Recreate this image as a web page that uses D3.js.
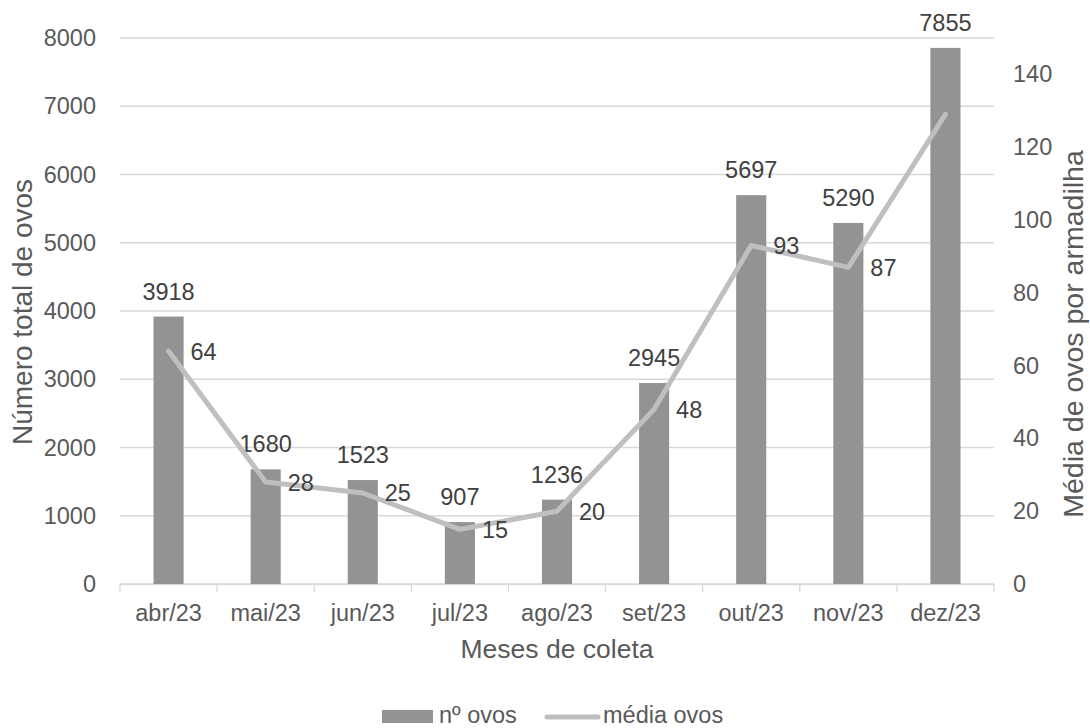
<!DOCTYPE html>
<html>
<head>
<meta charset="utf-8">
<script src="https://cdn.jsdelivr.net/npm/d3@7"></script>
<style>
  html, body { margin: 0; padding: 0; background: #ffffff; }
  svg { display: block; font-family: "Liberation Sans", Arial, sans-serif; }
</style>
</head>
<body>
<svg id="chart" width="1090" height="728"></svg>
<script>
// Monthly egg collection: total eggs (bars, left axis) and mean eggs per trap (line, right axis)
const months = ["abr/23", "mai/23", "jun/23", "jul/23", "ago/23", "set/23", "out/23", "nov/23", "dez/23"];
const totalEggs = [3918, 1680, 1523, 907, 1236, 2945, 5697, 5290, 7855];
const meanEggs = [64, 28, 25, 15, 20, 48, 93, 87, 129];
const meanLabelShown = [true, true, true, true, true, true, true, true, false];
const leftTicks = [0, 1000, 2000, 3000, 4000, 5000, 6000, 7000, 8000];
const rightTicks = [0, 20, 40, 60, 80, 100, 120, 140];

const svg = d3.select("#chart");

const plot = { left: 120, right: 994, top: 38, bottom: 584 };
const barColor = "#939393";
const lineColor = "#bfbfbf";
const gridColor = "#d9d9d9";
const axisText = "#595959";
const labelText = "#404040";
const smallFont = "23.5px";
const fontFamily = "'Liberation Sans', Arial, sans-serif";

const x = d3.scaleBand().domain(months).range([plot.left, plot.right]).paddingInner(0).paddingOuter(0);
const yLeft = d3.scaleLinear().domain([0, 8000]).range([plot.bottom, plot.top]);
const yRight = d3.scaleLinear().domain([0, 150]).range([plot.bottom, plot.top]);
const barWidth = x.bandwidth() * 0.31;
const cx = m => x(m) + x.bandwidth() / 2;

// horizontal gridlines
svg.append("g")
  .selectAll("line")
  .data(leftTicks)
  .join("line")
  .attr("x1", plot.left).attr("x2", plot.right)
  .attr("y1", d => yLeft(d)).attr("y2", d => yLeft(d))
  .attr("stroke", gridColor).attr("stroke-width", 1.3);

// category axis with tick marks at band boundaries
const xAxis = d3.axisBottom(x).tickSize(0).tickFormat(d => d);
const gx = svg.append("g").attr("transform", `translate(0,${plot.bottom})`).call(xAxis);
gx.select(".domain").attr("stroke", gridColor).attr("stroke-width", 1.3);
gx.selectAll(".tick text")
  .attr("y", 0).attr("dy", 0)
  .attr("transform", "translate(0,37)")
  .attr("fill", axisText)
  .style("font-size", smallFont)
  .style("font-family", fontFamily);
const boundaries = months.map(m => x(m)).concat([plot.right]);
svg.append("g")
  .selectAll("line")
  .data(boundaries)
  .join("line")
  .attr("x1", d => d).attr("x2", d => d)
  .attr("y1", plot.bottom).attr("y2", plot.bottom + 8)
  .attr("stroke", gridColor).attr("stroke-width", 1.3);

// left axis labels
const gl = svg.append("g").attr("transform", `translate(${plot.left},0)`)
  .call(d3.axisLeft(yLeft).tickValues(leftTicks).tickFormat(d3.format("d")).tickSize(0).tickPadding(24));
gl.select(".domain").remove();
gl.selectAll(".tick text")
  .attr("fill", axisText)
  .style("font-size", smallFont)
  .style("font-family", fontFamily);

// right axis labels
const gr = svg.append("g").attr("transform", `translate(${plot.right},0)`)
  .call(d3.axisRight(yRight).tickValues(rightTicks).tickFormat(d3.format("d")).tickSize(0).tickPadding(19));
gr.select(".domain").remove();
gr.selectAll(".tick text")
  .attr("fill", axisText)
  .style("font-size", smallFont)
  .style("font-family", fontFamily);

// bars
svg.append("g")
  .selectAll("rect")
  .data(months)
  .join("rect")
  .attr("x", (m) => cx(m) - barWidth / 2)
  .attr("width", barWidth)
  .attr("y", (m, i) => yLeft(totalEggs[i]))
  .attr("height", (m, i) => yLeft(0) - yLeft(totalEggs[i]))
  .attr("fill", barColor);

// bar value labels
svg.append("g")
  .selectAll("text")
  .data(months)
  .join("text")
  .attr("x", m => cx(m))
  .attr("y", (m, i) => yLeft(totalEggs[i]) - 17)
  .attr("text-anchor", "middle")
  .attr("fill", labelText)
  .style("font-size", smallFont)
  .text((m, i) => totalEggs[i]);

// mean line
const line = d3.line()
  .x((d, i) => cx(months[i]))
  .y(d => yRight(d));
svg.append("path")
  .datum(meanEggs)
  .attr("d", line)
  .attr("fill", "none")
  .attr("stroke", lineColor)
  .attr("stroke-width", 5)
  .attr("stroke-linejoin", "round")
  .attr("stroke-linecap", "round");

// mean value labels
svg.append("g")
  .selectAll("text")
  .data(meanEggs.map((v, i) => ({ v, i })).filter(d => meanLabelShown[d.i]))
  .join("text")
  .attr("x", d => cx(months[d.i]) + 22)
  .attr("y", d => yRight(d.v))
  .attr("dy", "0.36em")
  .attr("fill", labelText)
  .style("font-size", smallFont)
  .text(d => d.v);

// axis titles
svg.append("text")
  .attr("x", (plot.left + plot.right) / 2)
  .attr("y", 658)
  .attr("text-anchor", "middle")
  .attr("fill", axisText)
  .style("font-size", "26.5px")
  .text("Meses de coleta");

svg.append("text")
  .attr("transform", "translate(32,312) rotate(-90)")
  .attr("text-anchor", "middle")
  .attr("fill", axisText)
  .style("font-size", "28px")
  .text("Número total de ovos");

svg.append("text")
  .attr("transform", "translate(1083,334) rotate(-90)")
  .attr("text-anchor", "middle")
  .attr("fill", axisText)
  .style("font-size", "28.5px")
  .text("Média de ovos por armadilha");

// legend
const legend = svg.append("g");
legend.append("rect")
  .attr("x", 382).attr("y", 710).attr("width", 51).attr("height", 13)
  .attr("fill", barColor);
legend.append("text")
  .attr("x", 439).attr("y", 723)
  .attr("fill", axisText)
  .style("font-size", smallFont)
  .text("nº ovos");
legend.append("line")
  .attr("x1", 547).attr("x2", 598).attr("y1", 717).attr("y2", 717)
  .attr("stroke", lineColor).attr("stroke-width", 5).attr("stroke-linecap", "round");
legend.append("text")
  .attr("x", 603).attr("y", 723)
  .attr("fill", axisText)
  .style("font-size", smallFont)
  .text("média ovos");
</script>
</body>
</html>
